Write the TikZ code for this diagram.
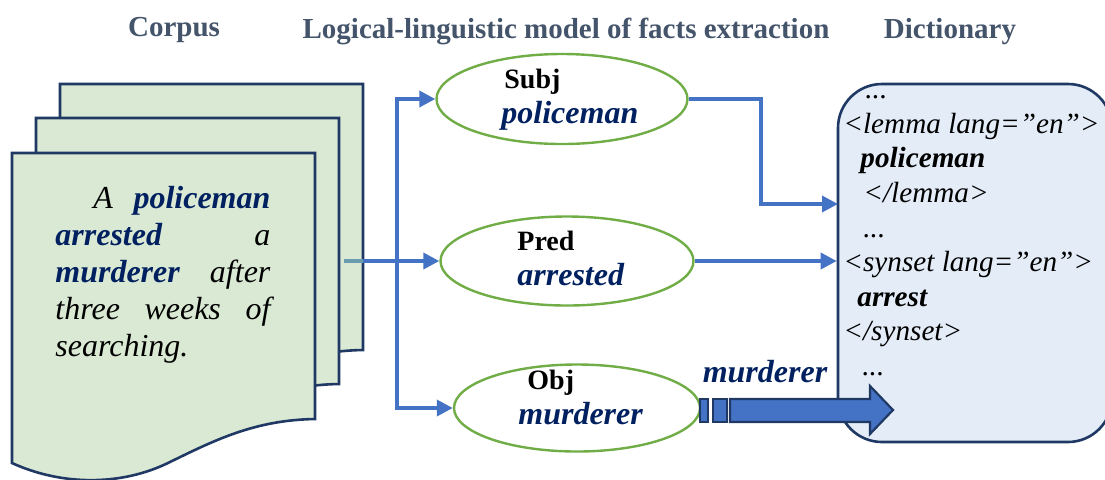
\documentclass[tikz,border=0pt]{standalone}
\usepackage{fontspec}
\setmainfont{Liberation Serif}
\usetikzlibrary{shapes.geometric, arrows.meta}

\definecolor{headgray}{HTML}{44546A}
\definecolor{navy}{HTML}{002060}
\definecolor{sheetline}{HTML}{203864}
\definecolor{sheetfill}{HTML}{DAE9D3}
\definecolor{rolegreen}{HTML}{70AD47}
\definecolor{linkblue}{HTML}{4472C4}
\definecolor{linkdim}{HTML}{6A9BAE}
\definecolor{dictfill}{HTML}{E3ECF7}

\begin{document}
\begin{tikzpicture}[x=0.5pt, y=-0.5pt,
  head/.style={font=\fontsize{14.5}{17}\selectfont\bfseries, text=headgray, inner sep=0pt, anchor=base},
  sheet/.style={draw=sheetline, fill=sheetfill, line width=1.3pt},
  role/.style={ellipse, draw=rolegreen, line width=1.2pt, inner sep=0pt},
  roletext/.style={font=\fontsize{14}{17.5}\selectfont, align=left, inner sep=0pt, anchor=north west},
  word/.style={font=\fontsize{16}{19}\selectfont\bfseries\itshape, text=navy, inner sep=0pt},
  link/.style={draw=linkblue, line width=1.8pt, -{Triangle[length=8pt, width=8pt]}},
  bigarrow/.style={draw=sheetline, fill=linkblue, line width=1.1pt}]
\useasboundingbox (0,0) rectangle (1105,479);

% headings
\node[head] (corpushead) at (174,36) {Corpus};
\node[head] (modelhead) at (566,38) {Logical-linguistic model of facts extraction};
\node[head] (dicthead) at (950,38) {Dictionary};

% corpus: three sheets
\filldraw[sheet, shift={(48,-69)}] (12,153) -- (315,153) -- (315,419) .. controls (255,420) and (215,440) .. (170,462) .. controls (120,487) and (60,485) .. (12,463) -- cycle;
\filldraw[sheet, shift={(24,-35)}] (12,153) -- (315,153) -- (315,419) .. controls (255,420) and (215,440) .. (170,462) .. controls (120,487) and (60,485) .. (12,463) -- cycle;
\filldraw[sheet] (12,153) -- (315,153) -- (315,419) .. controls (255,420) and (215,440) .. (170,462) .. controls (120,487) and (60,485) .. (12,463) -- cycle;
\node[anchor=north west, inner sep=0pt, text width=107.5pt, align=left,
  font=\itshape\fontsize{16}{18.5}\selectfont] (sentence) at (55,182)
  {\strut\hspace*{19pt}A\hfill\textcolor{navy}{\textbf{policeman}}\\
   \textcolor{navy}{\textbf{arrested}}\hfill a\\
   \textcolor{navy}{\textbf{murderer}}\hfill after\\
   three\hfill weeks\hfill of\\
   searching.};

% roles
\node[role, minimum width=125.5pt, minimum height=45pt] (subj) at (562,99) {};
\node[role, minimum width=126.5pt, minimum height=44.5pt] (pred) at (567,261) {};
\node[role, minimum width=123pt, minimum height=43.5pt] (obj) at (577,408) {};
\node[roletext] (subjtext) at (501,64) {\strut\hspace*{1.5pt}\textbf{Subj}\\
  {\fontsize{16}{17.5}\selectfont\bfseries\itshape\color{navy}policeman}};
\node[roletext] (predtext) at (517,226) {\strut\textbf{Pred}\\
  {\fontsize{16}{17.5}\selectfont\bfseries\itshape\color{navy}arrested}};
\node[roletext] (objtext) at (518,365) {\strut\hspace*{4.5pt}\textbf{Obj}\\
  {\fontsize{16}{17.5}\selectfont\bfseries\itshape\color{navy}murderer}};

% dictionary
\node[draw=sheetline, fill=dictfill, line width=1.3pt, rounded corners=22pt,
  minimum width=137pt, minimum height=179pt] (dict) at (975,263) {};
\node[anchor=north west, inner sep=0pt, align=left,
  font=\itshape\fontsize{14.6}{17.3}\selectfont] (entries) at (843,74)
  {\strut\hspace*{11pt}...\\
   <lemma lang=”en”>\\
   \hspace*{8.5pt}\textbf{policeman}\\
   \hspace*{10pt}</lemma>\\
   \hspace*{10pt}...\\
   <synset lang=”en”>\\
   \hspace*{7pt}\textbf{arrest}\\
   </synset>\\
   \hspace*{9.5pt}...};

% connectors
\coordinate (src) at (344,261);
\coordinate (sheetedge) at (363,261);
\coordinate (split) at (397,261);
\coordinate (bend) at (761,204);
\coordinate (lemmain) at (838,204);
\draw[link] (src) -- (pred.west);
\draw[draw=linkdim, line width=1.8pt] (src) -- (sheetedge);
\draw[link] (split) |- (subj.west);
\draw[link] (split) |- (obj.west);
\draw[link] (subj.east) -| (bend) -- (lemmain);
\draw[link] (pred.east) -- (pred.east -| dict.west);

% striped arrow for the object
\filldraw[bigarrow] (700,399) rectangle (708,422);
\filldraw[bigarrow] (713,399) rectangle (727,422);
\filldraw[bigarrow] (730,399) -- (870,399) -- (870,386) -- (893,410) -- (870,434) -- (870,422) -- (730,422) -- cycle;
\node[word, anchor=base] (objword) at (765,382) {murderer};
\end{tikzpicture}
\end{document}
